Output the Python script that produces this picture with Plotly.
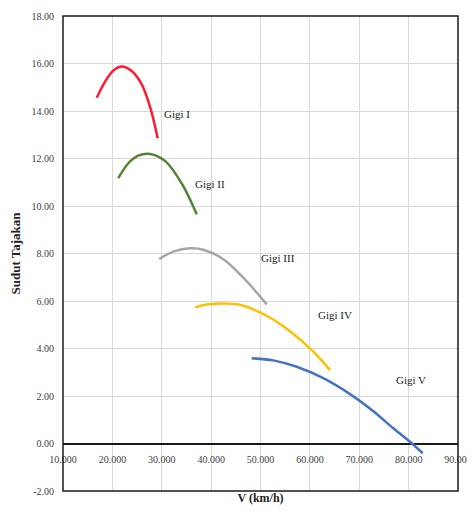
import plotly.graph_objects as go

# Data
gigi1_x = [16.83, 18.5, 20.19, 21.89, 23.91, 25.94, 27.62, 29.18]
gigi1_y = [14.56, 15.23, 15.70, 15.87, 15.68, 15.12, 14.18, 12.85]

gigi2_x = [21.2, 23.23, 25.25, 27.62, 30.66, 34.04, 37.08]
gigi2_y = [11.17, 11.80, 12.12, 12.19, 11.90, 10.95, 9.65]

gigi3_x = [29.5, 32.34, 35.72, 38.42, 42.47, 46.52, 51.25]
gigi3_y = [7.77, 8.08, 8.22, 8.16, 7.76, 6.98, 5.86]

gigi4_x = [36.73, 39.1, 42.47, 45.85, 51.25, 55.97, 60.7, 64.08]
gigi4_y = [5.73, 5.85, 5.90, 5.84, 5.38, 4.73, 3.87, 3.09]

gigi5_x = [48.22, 52.59, 57.33, 62.72, 68.13, 72.85, 76.9, 80.62, 82.85]
gigi5_y = [3.59, 3.50, 3.23, 2.75, 2.08, 1.36, 0.64, 0.01, -0.41]

series_names = ["Gigi I", "Gigi II", "Gigi III", "Gigi IV", "Gigi V"]
label_x = [30.05, 36.33, 49.7, 61.24, 77.04]
label_y = [13.87, 10.93, 7.81, 5.41, 2.67]

x_tickvals = [10, 20, 30, 40, 50, 60, 70, 80, 90]
x_ticktext = ["10.000", "20.000", "30.000", "40.000", "50.000", "60.000", "70.000", "80.000", "90.000"]
y_tickvals = [-2, 0, 2, 4, 6, 8, 10, 12, 14, 16, 18]
y_ticktext = ["-2.00", "0.00", "2.00", "4.00", "6.00", "8.00", "10.00", "12.00", "14.00", "16.00", "18.00"]

colors = ["#ff1a2e", "#548235", "#a6a6a6", "#ffc000", "#4472c4"]
xs = [gigi1_x, gigi2_x, gigi3_x, gigi4_x, gigi5_x]
ys = [gigi1_y, gigi2_y, gigi3_y, gigi4_y, gigi5_y]

serif = "Liberation Serif, Times New Roman, serif"

fig = go.Figure()
for name, x, y, c in zip(series_names, xs, ys, colors):
    fig.add_trace(go.Scatter(x=x, y=y, mode="lines", name=name,
                             line=dict(color=c, width=2.5, shape="spline", smoothing=1.0)))

for name, lx, ly in zip(series_names, label_x, label_y):
    fig.add_annotation(x=lx, y=ly, text=name, showarrow=False, xanchor="left",
                       yanchor="middle", font=dict(family=serif, size=11, color="#222222"))

fig.add_shape(type="rect", xref="x domain", yref="y domain", x0=0, y0=0, x1=1, y1=1,
              line=dict(color="#1a1a1a", width=1.5), layer="above")

# page body has an 8px default margin, so the figure is offset by 8px;
# keep the page from overflowing the 475x519 window
fig.update_layout(
    width=467, height=503,
    margin=dict(l=55, r=17, t=8, b=20, autoexpand=False),
    paper_bgcolor="white", plot_bgcolor="white",
    showlegend=False,
    font=dict(family=serif, color="#404040"),
    xaxis=dict(range=[10, 90], tickvals=x_tickvals, ticktext=x_ticktext,
               showgrid=True, gridcolor="#d9d9d9", gridwidth=1,
               zeroline=False, showline=False, ticks="",
               anchor="free", position=0.1, automargin=False,
               ticklabeloverflow="allow",
               tickfont=dict(family=serif, size=10, color="#404040"),
               ticklabelstandoff=8,
               title=dict(text="<b>V (km/h)</b>", font=dict(family=serif, size=12, color="#222222"),
                          standoff=30)),
    yaxis=dict(range=[-2, 18], tickvals=y_tickvals, ticktext=y_ticktext,
               showgrid=True, gridcolor="#d9d9d9", gridwidth=1,
               zeroline=True, zerolinecolor="#1a1a1a", zerolinewidth=1.5,
               showline=False, ticks="", automargin=False,
               ticklabeloverflow="allow",
               tickfont=dict(family=serif, size=10, color="#404040"),
               ticklabelstandoff=8,
               title=dict(text="<b>Sudut Tajakan</b>", font=dict(family=serif, size=13, color="#222222"),
                          standoff=10)),
)

fig.write_html("out.html")
